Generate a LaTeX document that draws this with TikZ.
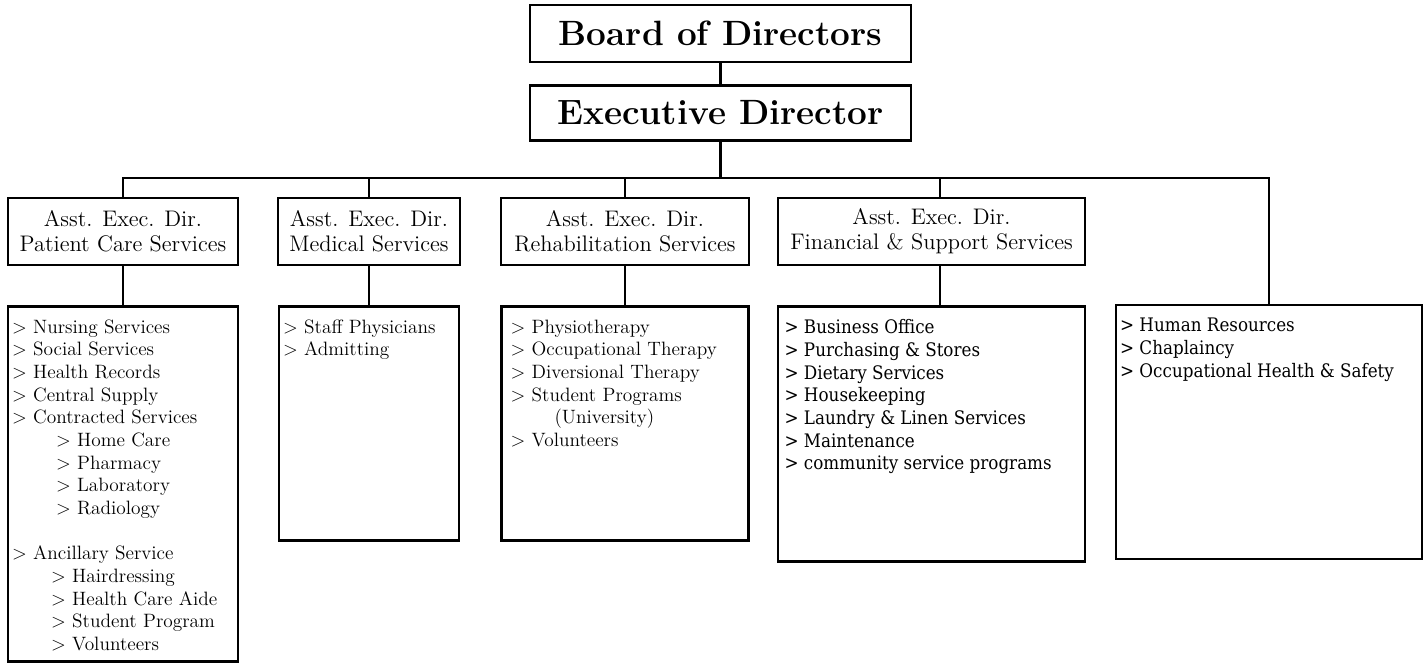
\documentclass[tikz,border=0pt]{standalone}
\usepackage{fontspec}
\newfontfamily\listfont{DejaVu Serif Condensed}
\usetikzlibrary{positioning}

\tikzstyle{topbox} = [draw, line width=1.4pt,
	minimum width = 7.62cm,
	font=\fontsize{20}{24}\selectfont\bfseries]
\tikzstyle{headbox} = [draw, line width=1.4pt,
	minimum height = 1.34cm,
	align=center,
	font=\fontsize{12.8}{14.2}\selectfont]
\tikzstyle{deptbox} = [draw, line width=1.4pt]
\tikzstyle{listtext} = [anchor=north west, inner sep=0pt, align=left,
	xshift=0.1cm, yshift=-0.28cm,
	font=\fontsize{11}{12.9}\selectfont]
\tikzstyle{listtextb} = [listtext, font=\listfont\fontsize{10.6}{12.9}\selectfont]
\tikzstyle{line} = [line width=1.4pt]
\newcommand{\subgap}{\hspace*{0.88cm}}

\begin{document}
\begin{tikzpicture}
			\useasboundingbox (0,0) rectangle (28.56,-13.24);
			
			\node (board) [topbox, minimum height=1.14cm] at (14.41,-0.67) {Board of Directors};
			\node (exec) [topbox, minimum height=1.1cm, below=0.42cm of board] {Executive Director};
			\coordinate (bus) at (0,-3.56);
			
			% assistant executive directors
			\node (head-pcs) [headbox, minimum width=4.6cm] at (2.46,-4.63) {Asst. Exec. Dir.\\Patient Care Services};
			\node (head-med) [headbox, minimum width=3.64cm] at (7.38,-4.63) {Asst. Exec. Dir.\\Medical Services};
			\node (head-reh) [headbox, minimum width=4.96cm] at (12.5,-4.63) {Asst. Exec. Dir.\\Rehabilitation Services};
			\node (head-fin) [headbox, minimum width=6.14cm] at (18.63,-4.63) {Asst. Exec. Dir.\\Financial \& Support Services};
			
			% departments
			\node (dept-pcs) [deptbox, minimum width=4.6cm, minimum height=7.1cm, below=0.78cm of head-pcs] {};
			\node (dept-med) [deptbox, minimum width=3.6cm, minimum height=4.68cm, below=0.78cm of head-med] {};
			\node (dept-reh) [deptbox, minimum width=4.94cm, minimum height=4.68cm, below=0.78cm of head-reh] {};
			\node (dept-fin) [deptbox, minimum width=6.14cm, minimum height=5.1cm, below=0.78cm of head-fin] {};
			\node (dept-hr) [deptbox, minimum width=6.12cm, minimum height=5.08cm, anchor=north] at (25.38,-6.08) {};
			
			\node [listtext] at (dept-pcs.north west) {> Nursing Services\\> Social Services\\> Health Records\\> Central Supply\\> Contracted Services\\
				\subgap> Home Care\\\subgap> Pharmacy\\\subgap> Laboratory\\\subgap> Radiology\\[12.9pt]
				> Ancillary Service\\\hspace*{0.78cm}> Hairdressing\\\hspace*{0.78cm}> Health Care Aide\\
				\hspace*{0.78cm}> Student Program\\\hspace*{0.78cm}> Volunteers};
			\node [listtext] at (dept-med.north west) {> Staff Physicians\\> Admitting};
			\node [listtext, xshift=0.1cm] at (dept-reh.north west) {> Physiotherapy\\> Occupational Therapy\\> Diversional Therapy\\> Student Programs\\
				\subgap(University)\\> Volunteers};
			\node [listtextb, xshift=0.05cm] at (dept-fin.north west) {> Business Office\\> Purchasing \& Stores\\> Dietary Services\\> Housekeeping\\
				> Laundry \& Linen Services\\> Maintenance\\> community service programs};
			\node [listtextb] at (dept-hr.north west) {> Human Resources\\> Chaplaincy\\> Occupational Health \& Safety};
			
			% connectors
			\draw [line] (board) -- (exec);
			\draw [line] (exec) -- (exec |- bus);
			\draw [line] (head-pcs.north) |- (bus -| dept-hr) -- (dept-hr.north);
			\foreach \n in {med, reh}
				\draw [line] (head-\n.north) -- (head-\n.north |- bus);
			\foreach \n in {pcs, med, reh}
				\draw [line] (head-\n) -- (dept-\n);
			\draw [line] ([xshift=0.17cm]head-fin.north) -- ([xshift=0.17cm]head-fin.north |- bus);
			\draw [line] ([xshift=0.17cm]head-fin.south) -- ([xshift=0.17cm]dept-fin.north);
		\end{tikzpicture}
\end{document}
